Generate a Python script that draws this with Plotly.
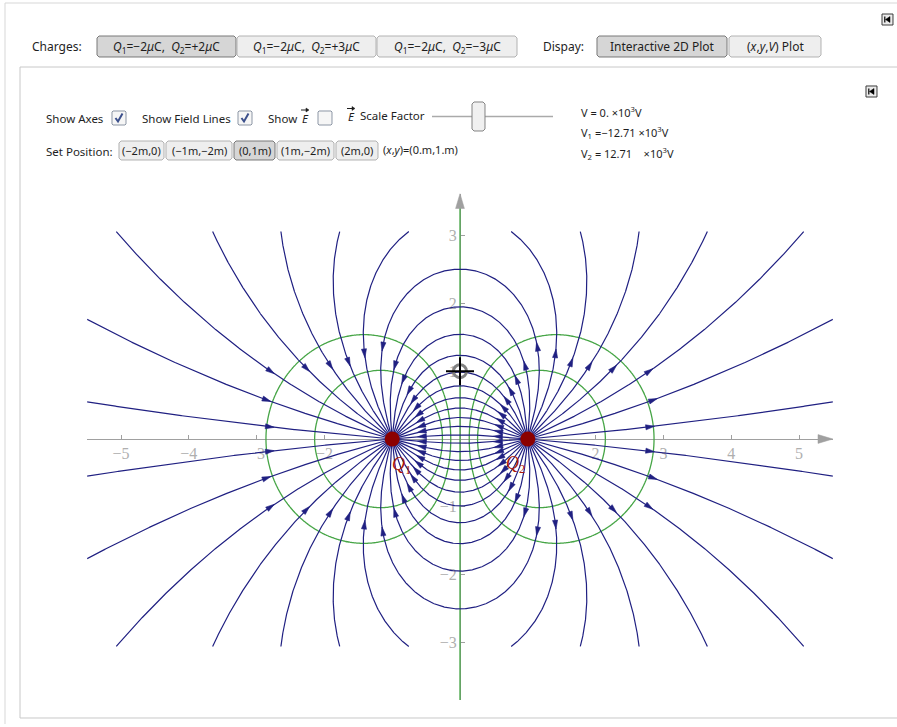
import math
import numpy as np
import plotly.graph_objects as go

W, H = 897, 727

# ---------------------------------------------------------------- physics
K_KV = 8.9875                    # Coulomb constant, kV*m per microcoulomb
charge_labels = ["Q<sub>1</sub>", "Q<sub>2</sub>"]
charge_q = [-2.0, 2.0]           # microcoulomb
charge_x = [-1.0, 1.0]           # m
charge_y = [0.0, 0.0]            # m
label_x = [-0.86, 0.82]          # where the charge names are written
label_y = [-0.39, -0.37]
probe = [0.0, 1.0]               # locator position, m

equipotential_kv = [-10, -5, 0, 5, 10]   # contour levels, x10^3 V
n_field_lines = 36
first_angle_deg = 5.0

x_ticks = [-5, -4, -3, -2, 2, 3, 4, 5]
x_unlabelled_ticks = [-1, 1]
y_ticks = [-3, -2, -1, 1, 2, 3]

x_range = [-5.5, 5.5]
y_range = [-3.85, 3.62]
line_box = (5.5, 3.06)           # field lines are traced inside this box

# page geometry of the plot frame
SCALE = 67.8                     # px per metre
ORIGIN = (460.0, 439.0)          # px position of (0, 0)

NAVY = "rgb(32,32,130)"
GREEN = "rgb(70,165,70)"
AXIS_GREY = "rgb(160,160,160)"
TICK_GREY = "rgb(175,175,175)"
DARK_RED = "rgb(140,0,0)"


def field(x, y):
    ex = ey = 0.0
    for q, cx, cy in zip(charge_q, charge_x, charge_y):
        dx, dy = x - cx, y - cy
        r3 = (dx * dx + dy * dy) ** 1.5
        ex += q * dx / r3
        ey += q * dy / r3
    return ex, ey


def potential_kv(x, y):
    v = 0.0
    for q, cx, cy in zip(charge_q, charge_x, charge_y):
        v = v + K_KV * q / np.hypot(x - cx, y - cy)
    return v


def trace(start, angle, sign, h=0.01, max_steps=4000):
    """Follow a field line from charge `start` (sign=+1 along E, -1 against E)."""
    XB, YB = line_box
    cx0, cy0 = charge_x[start], charge_y[start]
    x = cx0 + 0.02 * math.cos(angle)
    y = cy0 + 0.02 * math.sin(angle)
    pts = [(cx0, cy0), (x, y)]

    def f(px_, py_):
        ex, ey = field(px_, py_)
        n = math.hypot(ex, ey)
        return sign * ex / n, sign * ey / n

    for _ in range(max_steps):
        k1 = f(x, y)
        k2 = f(x + 0.5 * h * k1[0], y + 0.5 * h * k1[1])
        k3 = f(x + 0.5 * h * k2[0], y + 0.5 * h * k2[1])
        k4 = f(x + h * k3[0], y + h * k3[1])
        xn = x + h / 6 * (k1[0] + 2 * k2[0] + 2 * k3[0] + k4[0])
        yn = y + h / 6 * (k1[1] + 2 * k2[1] + 2 * k3[1] + k4[1])
        for j, (cx, cy) in enumerate(zip(charge_x, charge_y)):
            if j != start and math.hypot(xn - cx, yn - cy) < 0.025:
                pts.append((cx, cy))
                return np.array(pts), "charge"
        if abs(xn) > XB or abs(yn) > YB:
            t = 1.0
            if abs(xn) > XB:
                t = min(t, (math.copysign(XB, xn) - x) / (xn - x))
            if abs(yn) > YB:
                t = min(t, (math.copysign(YB, yn) - y) / (yn - y))
            pts.append((x + t * (xn - x), y + t * (yn - y)))
            return np.array(pts), "box"
        x, y = xn, yn
        pts.append((x, y))
    return np.array(pts), "open"


angles = np.radians(first_angle_deg + 360.0 / n_field_lines * np.arange(n_field_lines))
pos_idx = int(np.argmax(charge_q))
neg_idx = int(np.argmin(charge_q))

lines = []   # (points, fractions for arrowheads)
for a in angles:
    pts, end = trace(pos_idx, a, +1)
    lines.append((pts, [0.22, 0.78] if end == "charge" else [0.4]))
for a in angles:
    pts, end = trace(neg_idx, a, -1)
    if end != "charge":
        lines.append((pts, [0.4]))

lx, ly = [], []
arrow_x, arrow_y = [], []
AL, AW = 0.13, 0.075         # arrowhead length / width, m
for pts, fracs in lines:
    lx += list(pts[:, 0]) + [None]
    ly += list(pts[:, 1]) + [None]
    seg_len = np.hypot(np.diff(pts[:, 0]), np.diff(pts[:, 1]))
    s = np.concatenate([[0], np.cumsum(seg_len)])
    for fr in fracs:
        sx = np.interp(fr * s[-1], s, pts[:, 0])
        sy = np.interp(fr * s[-1], s, pts[:, 1])
        ex, ey = field(sx, sy)
        n = math.hypot(ex, ey)
        dx, dy = ex / n, ey / n
        tip = (sx + dx * AL / 2, sy + dy * AL / 2)
        bx, by = sx - dx * AL / 2, sy - dy * AL / 2
        arrow_x += [tip[0], bx - dy * AW / 2, bx + dy * AW / 2, tip[0], None]
        arrow_y += [tip[1], by + dx * AW / 2, by - dx * AW / 2, tip[1], None]

# potential grid for the equipotentials
gx = np.linspace(x_range[0], x_range[1], 560)
gy = np.linspace(y_range[0], 3.45, 400)
GX, GY = np.meshgrid(gx, gy)
V = np.clip(potential_kv(GX, GY), -200, 200)

fig = go.Figure()

fig.add_trace(go.Scatter(x=lx, y=ly, mode="lines",
                         line=dict(color=NAVY, width=1.2), hoverinfo="skip"))
fig.add_trace(go.Contour(x=gx, y=gy, z=V, showscale=False, hoverinfo="skip",
                         autocontour=False,
                         contours=dict(start=min(equipotential_kv), end=max(equipotential_kv),
                                       size=equipotential_kv[1] - equipotential_kv[0],
                                       coloring="none"),
                         line=dict(color=GREEN, width=1.3)))
fig.add_trace(go.Scatter(x=arrow_x, y=arrow_y, mode="lines", fill="toself",
                         fillcolor=NAVY, line=dict(color=NAVY, width=0.6),
                         hoverinfo="skip"))

# axis arrowheads
xa, ya = x_range[1], y_range[1]
fig.add_trace(go.Scatter(
    x=[xa, xa - 0.22, xa - 0.22, xa, None, 0, -0.065, 0.065, 0],
    y=[0, 0.065, -0.065, 0, None, ya, ya - 0.22, ya - 0.22, ya],
    mode="lines", fill="toself", fillcolor=AXIS_GREY,
    line=dict(color=AXIS_GREY, width=0.5), hoverinfo="skip"))

# charges
fig.add_trace(go.Scatter(x=charge_x, y=charge_y, mode="markers",
                         marker=dict(size=15, color=DARK_RED, line=dict(width=0)),
                         hoverinfo="skip"))
for lab, x, y in zip(charge_labels, label_x, label_y):
    fig.add_annotation(x=x, y=y, xref="x", yref="y", showarrow=False,
                       text="<i>" + lab.replace("<sub>", "</i><sub>"),
                       font=dict(family="Liberation Serif", size=18, color="rgb(170,25,10)"))

# locator
fig.add_trace(go.Scatter(x=[probe[0]], y=[probe[1]], mode="markers",
                         marker=dict(symbol="circle-open", size=13, color="rgb(130,130,130)",
                                     line=dict(width=3, color="rgb(130,130,130)")),
                         hoverinfo="skip"))
fig.add_trace(go.Scatter(x=[probe[0]], y=[probe[1]], mode="markers",
                         marker=dict(symbol="cross-thin-open", size=20, color="black",
                                     line=dict(width=2, color="black")),
                         hoverinfo="skip"))

dx0 = (ORIGIN[0] + x_range[0] * SCALE) / W
dx1 = (ORIGIN[0] + x_range[1] * SCALE) / W
dy0 = 1 - (ORIGIN[1] - y_range[0] * SCALE) / H
dy1 = 1 - (ORIGIN[1] - y_range[1] * SCALE) / H


def minus(t):
    return "\u2212%d" % -t if t < 0 else str(t)


tickfont = dict(family="Liberation Serif", size=16, color=TICK_GREY)
fig.update_xaxes(range=x_range, domain=[dx0, dx1], anchor="free",
                 position=1 - ORIGIN[1] / H, showline=True, linecolor=AXIS_GREY,
                 linewidth=1, ticks="inside", ticklen=4, tickcolor=AXIS_GREY,
                 tickvals=x_ticks, ticktext=[minus(t) for t in x_ticks],
                 minor=dict(tickvals=x_unlabelled_ticks, ticks="inside", ticklen=4,
                            tickcolor=AXIS_GREY, showgrid=False),
                 tickfont=tickfont, showgrid=False, zeroline=False,
                 layer="below traces", fixedrange=True)
fig.update_yaxes(range=y_range, domain=[dy0, dy1], anchor="free",
                 position=ORIGIN[0] / W, showline=True, linecolor=AXIS_GREY,
                 linewidth=1, ticks="inside", ticklen=4, tickcolor=AXIS_GREY,
                 tickvals=y_ticks, ticktext=[minus(t) for t in y_ticks],
                 tickfont=tickfont, showgrid=False, zeroline=False,
                 layer="below traces", fixedrange=True)

# ---------------------------------------------------------------- controls
shapes = []


def px(x):
    return x / W


def py(y):
    return 1 - y / H


def rbox(x0, y0, x1, y1, fill, line, r=2.0, lw=1):
    pts = [(x0 + r, y0), (x1 - r, y0), (x1, y0 + r), (x1, y1 - r),
           (x1 - r, y1), (x0 + r, y1), (x0, y1 - r), (x0, y0 + r)]
    path = "M " + " L ".join("%.5f,%.5f" % (px(a), py(b)) for a, b in pts) + " Z"
    shapes.append(dict(type="path", xref="paper", yref="paper", path=path,
                       fillcolor=fill, line=dict(color=line, width=lw), layer="above"))


def seg(x0, y0, x1, y1, color, lw=1):
    shapes.append(dict(type="line", xref="paper", yref="paper", x0=px(x0), y0=py(y0),
                       x1=px(x1), y1=py(y1), line=dict(color=color, width=lw)))


def label(x, y, text, size=12, anchor="left", color="rgb(30,30,30)", family="Noto Sans"):
    fig.add_annotation(x=px(x), y=py(y), xref="paper", yref="paper", text=text,
                       showarrow=False, xanchor=anchor, yanchor="middle",
                       font=dict(family=family, size=size, color=color))


def vec_mark(x0, y):
    """Small vector arrow written over a letter."""
    seg(x0, y, x0 + 6.5, y, "rgb(30,30,30)", 1)
    shapes.append(dict(type="path", xref="paper", yref="paper",
                       path="M %.5f,%.5f L %.5f,%.5f L %.5f,%.5f Z" % (
                           px(x0 + 8), py(y), px(x0 + 5), py(y - 2), px(x0 + 5), py(y + 2)),
                       fillcolor="rgb(30,30,30)", line=dict(color="rgb(30,30,30)", width=0.5)))


# frames
seg(5, 3, W, 3, "rgb(215,215,215)")
seg(5, 3, 5, 724, "rgb(215,215,215)")
rbox(20, 67, W + 5, 718, "rgba(0,0,0,0)", "rgb(200,200,200)", r=0)

charge_buttons = ["<i>Q</i><sub>1</sub>=\u22122<i>\u03bc</i>C,\u00a0 <i>Q</i><sub>2</sub>=+2<i>\u03bc</i>C",
                  "<i>Q</i><sub>1</sub>=\u22122<i>\u03bc</i>C,\u00a0 <i>Q</i><sub>2</sub>=+3<i>\u03bc</i>C",
                  "<i>Q</i><sub>1</sub>=\u22122<i>\u03bc</i>C,\u00a0 <i>Q</i><sub>2</sub>=\u22123<i>\u03bc</i>C"]
charge_btn_x = [(97, 236), (237, 376), (377, 517)]
display_buttons = ["Interactive 2D Plot", "(<i>x</i>,<i>y</i>,<i>V</i>) Plot"]
display_btn_x = [(597, 727), (729, 821)]
position_buttons = ["(\u22122m,0)", "(\u22121m,\u22122m)", "(0,1m)", "(1m,\u22122m)", "(2m,0)"]
position_btn_x = [(119, 164), (166, 232), (234, 275), (277, 334), (336, 378)]

SEL_FILL, SEL_LINE = "rgb(214,214,214)", "rgb(120,120,120)"
BTN_FILL, BTN_LINE = "rgb(238,238,238)", "rgb(178,178,178)"

label(30, 46, "Charges:")
for i, (t, (a, b)) in enumerate(zip(charge_buttons, charge_btn_x)):
    rbox(a, 36, b, 57, SEL_FILL if i == 0 else BTN_FILL, SEL_LINE if i == 0 else BTN_LINE)
    label((a + b) / 2, 46.5, t, anchor="center")
label(541, 46, "Dispay:")
for i, (t, (a, b)) in enumerate(zip(display_buttons, display_btn_x)):
    rbox(a, 36, b, 57, SEL_FILL if i == 0 else BTN_FILL, SEL_LINE if i == 0 else BTN_LINE)
    label((a + b) / 2, 46.5, t, anchor="center")

# check boxes
label(44, 118, "Show Axes", size=11.5)
label(140, 118, "Show Field Lines", size=11.5)
label(266, 118, "Show", size=11.5)
label(300, 118.5, "<i>E</i>", size=11.5)
vec_mark(301, 110)
label(346, 116.5, "<i>E</i>", size=11.5)
vec_mark(347, 108.5)
label(358, 116, "Scale Factor", size=11.5)
for (a, checked) in [(112, True), (238, True), (318, False)]:
    rbox(a, 111, a + 14, 125, "rgb(246,246,246)", "rgb(140,150,165)", r=1)
    if checked:
        shapes.append(dict(type="path", xref="paper", yref="paper",
                           path="M %.5f,%.5f L %.5f,%.5f L %.5f,%.5f" % (
                               px(a + 3.5), py(118), px(a + 6), py(121.5), px(a + 10.5), py(113.5)),
                           line=dict(color="rgb(60,80,140)", width=2)))

# slider
seg(432, 116.5, 553, 116.5, "rgb(170,170,170)", 1.5)
rbox(472, 102, 485, 131, "rgb(240,240,240)", "rgb(130,130,130)", r=2)

# position buttons
label(44, 151, "Set Position:", size=11.5)
for i, (t, (a, b)) in enumerate(zip(position_buttons, position_btn_x)):
    rbox(a, 141, b, 160, SEL_FILL if i == 2 else BTN_FILL, SEL_LINE if i == 2 else BTN_LINE)
    label((a + b) / 2, 150.5, t, anchor="center", size=11)
label(381, 150, "(<i>x</i>,<i>y</i>)=(%g.m,%g.m)" % (probe[0], probe[1]), size=11)

# potentials at the locator
v_parts = [K_KV * q / math.hypot(probe[0] - cx, probe[1] - cy)
           for q, cx, cy in zip(charge_q, charge_x, charge_y)]
v_total = sum(v_parts)


def fmt(v):
    return "0." if abs(v) < 5e-3 else ("%.2f" % v).replace("-", "\u2212")


label(579, 112, "V = %s \u00d710<sup>3</sup>V" % fmt(v_total), size=11)
label(579, 132, "V<sub>1</sub> =%s \u00d710<sup>3</sup>V" % fmt(v_parts[0]), size=11)
label(579, 153, "V<sub>2</sub> = %s\u00a0\u00a0\u00a0 \u00d710<sup>3</sup>V" % fmt(v_parts[1]), size=11)

# small panel icons
for (a, b) in [(882, 14), (866, 86)]:
    rbox(a, b, a + 11, b + 11, "rgb(235,235,235)", "rgb(60,60,60)", r=0)
    shapes.append(dict(type="path", xref="paper", yref="paper",
                       path="M %.5f,%.5f L %.5f,%.5f L %.5f,%.5f Z" % (
                           px(a + 3.5), py(b + 5.5), px(a + 8), py(b + 2.5), px(a + 8), py(b + 8.5)),
                       fillcolor="black", line=dict(color="black", width=0.5)))
    seg(a + 2.8, b + 2.5, a + 2.8, b + 8.5, "black", 1.2)

fig.update_layout(width=W, height=H, margin=dict(l=0, r=0, t=0, b=0),
                  paper_bgcolor="white", plot_bgcolor="white", showlegend=False,
                  shapes=shapes, hovermode=False)

fig.write_html("out.html")
